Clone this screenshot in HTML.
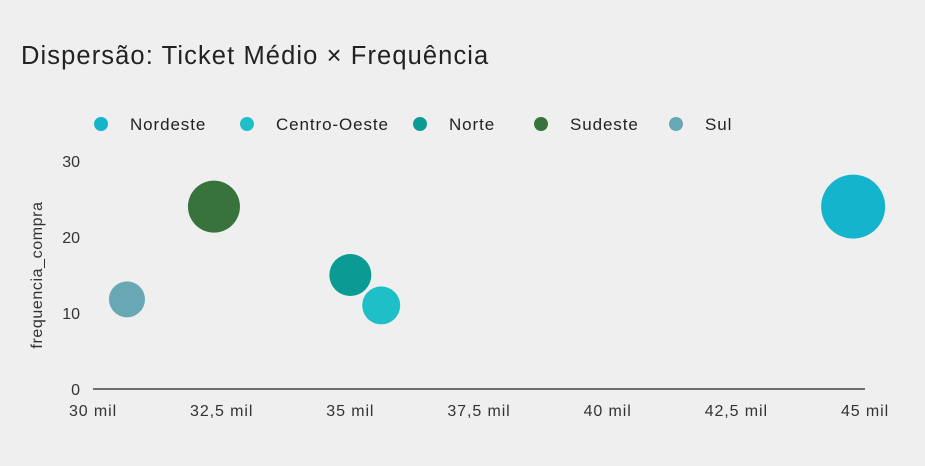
<!DOCTYPE html>
<html><head><meta charset="utf-8"><style>
body{margin:0;background:#efefef;font-family:"Liberation Sans",sans-serif;}
svg{display:block}
</style></head><body>
<svg id="chart" width="925" height="466">
<rect width="925" height="466" fill="#efefef"/>
<text x="21" y="64" font-size="25.5" letter-spacing="1.1" fill="#222">Dispersão: Ticket Médio × Frequência</text>
<text transform="translate(42,275) rotate(-90)" text-anchor="middle" font-size="16" letter-spacing="0.6" fill="#333">frequencia_compra</text>
<g id="legend"></g>
<g id="axes"></g>
<g id="marks"></g>
</svg>
<script>
const categories=["Nordeste","Centro-Oeste","Norte","Sudeste","Sul"];
const ticketMedio=[44770,35600,35000,32350,30660];
const frequencia=[24,11,15,24,11.8];
const sizes=[1024,361,441,676,324];
const colors=["#14b4cc","#1ebfc6","#0b9a94","#38733b","#68a8b5"];
const xTicks=[30000,32500,35000,37500,40000,42500,45000];
const xTickLabels=["30 mil","32,5 mil","35 mil","37,5 mil","40 mil","42,5 mil","45 mil"];
const yTicks=[0,10,20,30];
const legendX=[101,247,420,541,676];

const NS="http://www.w3.org/2000/svg";
const x=v=>93+(v-30000)/15000*772;
const y=v=>389-v/30*228;
const r=s=>Math.sqrt(s);
function mk(t,a,p){const e=document.createElementNS(NS,t);for(const k in a)e.setAttribute(k,a[k]);p.appendChild(e);return e;}
const ax=document.getElementById('axes'),mg=document.getElementById('marks'),lg=document.getElementById('legend');
const base=mk('line',{x1:93,x2:865,y1:389,y2:389,stroke:'#444','stroke-width':1.5},ax);


xTicks.forEach((t,i)=>{
 const tx=mk('text',{x:x(t),y:416,'text-anchor':'middle','font-size':16,'letter-spacing':0.9,fill:'#333'},ax);
 tx.textContent=xTickLabels[i];
 
 
});
yTicks.forEach(t=>{
 const tx=mk('text',{x:80,y:y(t)+6,'text-anchor':'end','font-size':16,fill:'#333'},ax);
 tx.textContent=t;
 
 
});
categories.forEach((c,i)=>{
 const ci=mk('circle',{cx:x(ticketMedio[i]),cy:y(frequencia[i]),r:r(sizes[i]),fill:colors[i]},mg);
 
 
 const d=mk('circle',{cx:legendX[i],cy:124,r:7,fill:colors[i]},lg);
 
 
 const t=mk('text',{x:legendX[i]+29,y:130,'font-size':17,'letter-spacing':0.9,fill:'#222'},lg);
 t.textContent=c;
 
 
});
</script>
</body></html>
